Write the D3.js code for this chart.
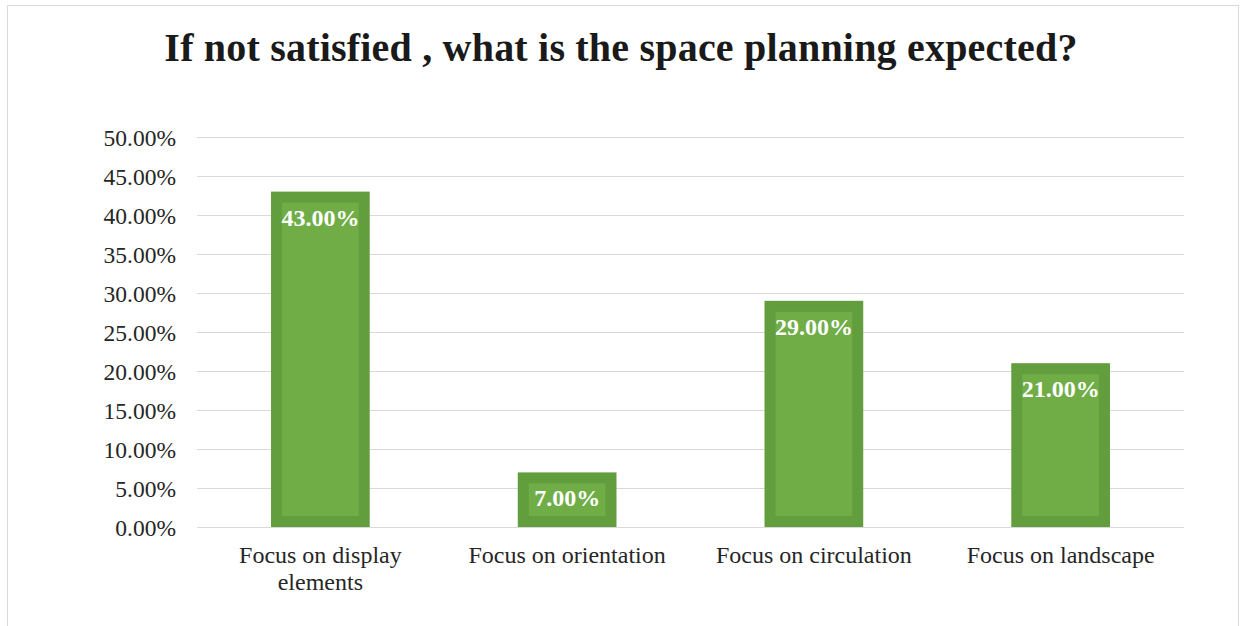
<!DOCTYPE html>
<html>
<head>
<meta charset="utf-8">
<script src="https://cdn.jsdelivr.net/npm/d3@7"></script>
<style>
  html, body { margin: 0; padding: 0; background: #fff; }
  svg { display: block; }
</style>
</head>
<body>
<svg id="chart" width="1241" height="626"></svg>
<script>
// Survey answers: expected space planning when not satisfied
const categories = [
  ["Focus on display", "elements"],
  ["Focus on orientation"],
  ["Focus on circulation"],
  ["Focus on landscape"]
];
const values = [43, 7, 29, 21];
const tickValues = [0, 5, 10, 15, 20, 25, 30, 35, 40, 45, 50];
const titleText = "If not satisfied , what is the space planning expected?";

const W = 1241, H = 626;
const plot = { left: 197, right: 1184, top: 137, bottom: 527 };
const serif = "'Liberation Serif', 'Times New Roman', serif";

const svg = d3.select("#chart");

// Outer chart frame
svg.append("rect")
  .attr("x", 7.5).attr("y", 5.5)
  .attr("width", 1231).attr("height", 640)
  .attr("fill", "#fff")
  .attr("stroke", "#d9d9d9").attr("stroke-width", 1);

// Title
svg.append("text")
  .attr("x", 621).attr("y", 61)
  .attr("text-anchor", "middle")
  .attr("font-family", serif)
  .attr("font-weight", "bold")
  .attr("font-size", 40)
  .attr("letter-spacing", 0.2)
  .attr("fill", "#1a1a1a")
  .text(titleText);

const x = d3.scaleBand()
  .domain(d3.range(categories.length))
  .range([plot.left, plot.right])
  .paddingInner(0.6).paddingOuter(0.3);

const y = d3.scaleLinear().domain([0, 50]).range([plot.bottom, plot.top]);

// Horizontal gridlines
svg.append("g")
  .selectAll("line")
  .data(tickValues)
  .join("line")
  .attr("x1", plot.left).attr("x2", plot.right)
  .attr("y1", d => Math.round(y(d)) + 0.5)
  .attr("y2", d => Math.round(y(d)) + 0.5)
  .attr("stroke", "#d9d9d9").attr("stroke-width", 1);

// Y axis labels
const yAxis = d3.axisLeft(y)
  .tickValues(tickValues)
  .tickSize(0)
  .tickPadding(0)
  .tickFormat(d => d.toFixed(2) + "%");

const gy = svg.append("g")
  .attr("transform", `translate(${plot.left - 21},0)`)
  .call(yAxis);
gy.select(".domain").remove();
gy.selectAll("text")
  .attr("dy", "0.38em")
  .attr("font-family", serif)
  .attr("font-size", 23.5)
  .attr("fill", "#262626");

// Bars: darker frame drawn inside the bar outline
const frame = 11;
const bars = svg.append("g");
values.forEach((v, i) => {
  const x0 = x(i), bw = x.bandwidth();
  const yTop = y(v), yBot = y(0);
  bars.append("rect")
    .attr("x", x0).attr("y", yTop)
    .attr("width", bw).attr("height", yBot - yTop)
    .attr("fill", "#629e3d");
  bars.append("rect")
    .attr("x", x0 + frame).attr("y", yTop + frame)
    .attr("width", bw - 2 * frame).attr("height", Math.max(0, yBot - yTop - 2 * frame))
    .attr("fill", "#70ad47");
  // Value label
  bars.append("text")
    .attr("x", x0 + bw / 2).attr("y", yTop + 34)
    .attr("text-anchor", "middle")
    .attr("font-family", serif)
    .attr("font-weight", "bold")
    .attr("font-size", 24)
    .attr("fill", "#ffffff")
    .text(v.toFixed(2) + "%");
});

// Category labels
const cat = svg.append("g");
categories.forEach((lines, i) => {
  const t = cat.append("text")
    .attr("x", x(i) + x.bandwidth() / 2)
    .attr("y", 563)
    .attr("text-anchor", "middle")
    .attr("font-family", serif)
    .attr("font-size", 24)
    .attr("fill", "#262626");
  lines.forEach((ln, k) => {
    t.append("tspan")
      .attr("x", x(i) + x.bandwidth() / 2)
      .attr("dy", k === 0 ? 0 : 27)
      .text(ln);
  });
});
</script>
</body>
</html>
